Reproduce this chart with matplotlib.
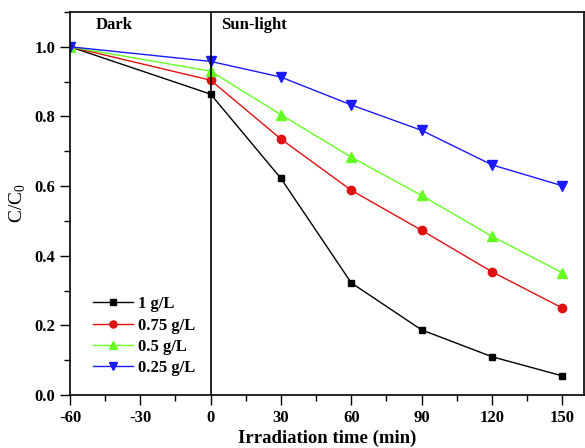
import matplotlib.pyplot as plt
from matplotlib.ticker import MultipleLocator

# Irradiation time (min) and C/C0 for each catalyst dose
time = [-60, 0, 30, 60, 90, 120, 150]
dose_1 = [1.0, 0.864, 0.622, 0.322, 0.187, 0.110, 0.055]
dose_075 = [1.0, 0.904, 0.735, 0.588, 0.473, 0.354, 0.250]
dose_05 = [1.0, 0.930, 0.805, 0.683, 0.573, 0.456, 0.351]
dose_025 = [1.0, 0.958, 0.913, 0.833, 0.760, 0.661, 0.601]

plt.rcParams['font.family'] = ['Liberation Serif', 'DejaVu Serif']
plt.rcParams['mathtext.fontset'] = 'custom'
plt.rcParams['mathtext.rm'] = 'Liberation Serif'
plt.rcParams['axes.unicode_minus'] = False

fig = plt.figure(figsize=(5.85, 4.48), dpi=100)
ax = fig.add_axes([0.1197, 0.1183, 0.879, 0.855])

ax.plot(time, dose_1, color='black', marker='s', ms=5, lw=1, label='1 g/L')
ax.plot(time, dose_075, color='#e01010', marker='o', ms=6, lw=1, label='0.75 g/L')
ax.plot(time, dose_05, color='#66ff22', marker='^', ms=7, lw=1, label='0.5 g/L')
ax.plot(time, dose_025, color='#1a1aff', marker='v', ms=7, lw=1, label='0.25 g/L')

ax.axvline(0, color='black', lw=1.2)
ax.text(-49, 1.062, 'Dark', fontsize=12, fontweight='bold', va='center')
ax.text(4.5, 1.062, 'Sun-light', fontsize=12, fontweight='bold', va='center')

ax.set_xlim(-60, 159.4)
ax.set_ylim(0, 1.1)
ax.set_xticks([-60, -30, 0, 30, 60, 90, 120, 150])
ax.xaxis.set_minor_locator(MultipleLocator(15))
ax.set_yticks([0.0, 0.2, 0.4, 0.6, 0.8, 1.0])
ax.yaxis.set_minor_locator(MultipleLocator(0.1))
ax.tick_params(which='both', direction='out', top=False, right=False)
ax.tick_params(which='major', length=7, width=1)
ax.tick_params(which='minor', length=4, width=1)
for lab in ax.get_xticklabels() + ax.get_yticklabels():
    lab.set_fontweight('bold')
    lab.set_fontsize(12)
for sp in ax.spines.values():
    sp.set_linewidth(1.2)

ax.set_xlabel('Irradiation time (min)', fontsize=13.5, fontweight='bold', labelpad=3)
ax.set_ylabel('C/C$_0$', fontsize=14, labelpad=5)

ax.legend(loc='lower left', bbox_to_anchor=(0.015, 0.01), frameon=False,
          prop={'weight': 'bold', 'size': 12}, handlelength=2.4, markerscale=0.85,
          labelspacing=0.32, handletextpad=0.3)

fig.savefig('out.png', dpi=100)
